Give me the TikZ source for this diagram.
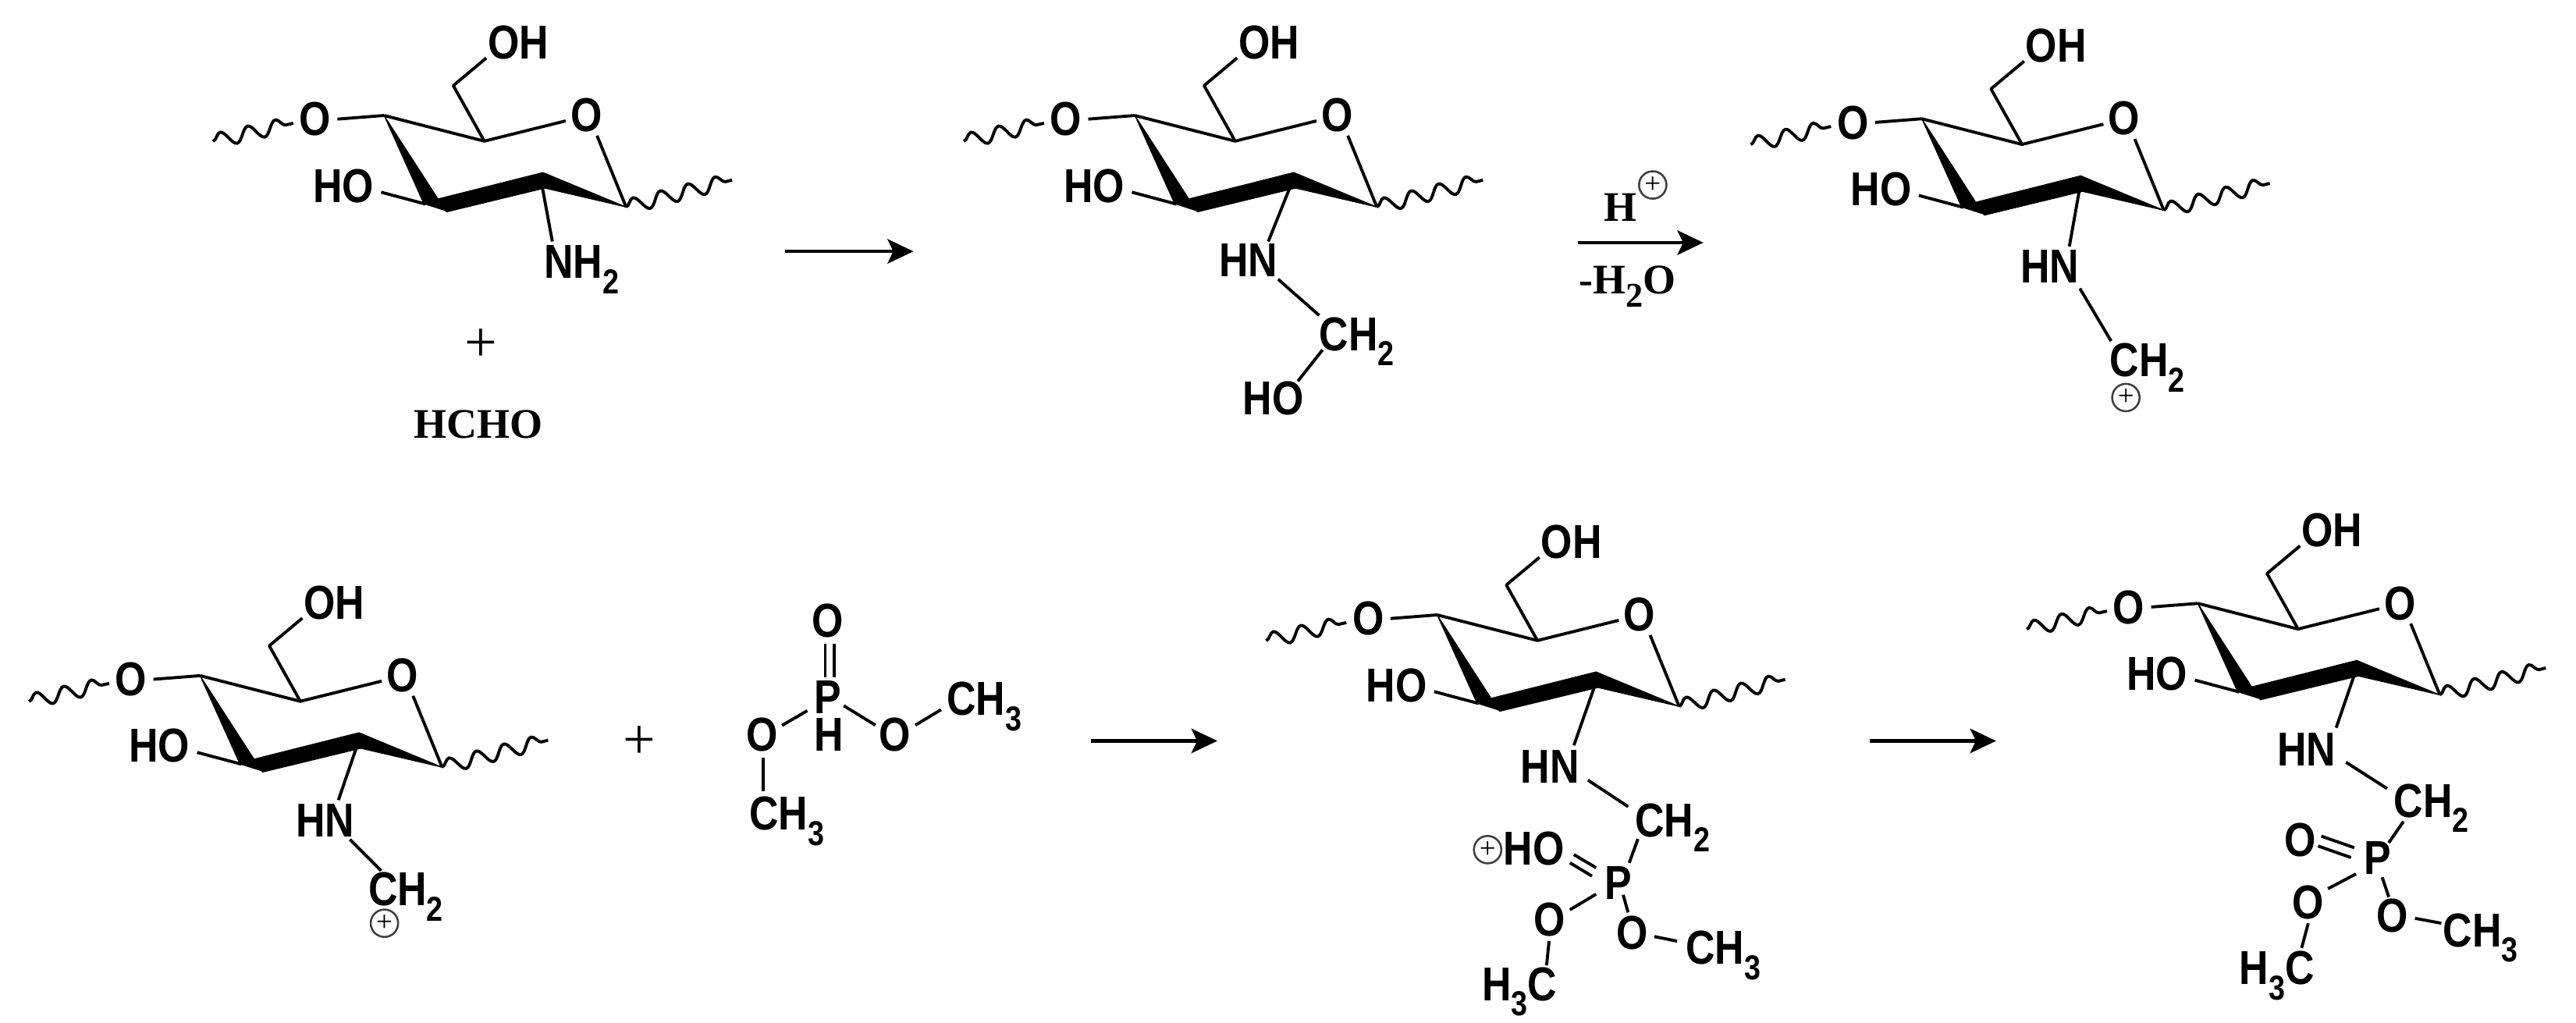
\documentclass[tikz,border=0pt]{standalone}
\usepackage{fontspec}
\usetikzlibrary{arrows.meta,decorations.pathmorphing}
\newfontfamily\chemfont{Liberation Sans Bold}[FakeStretch=0.85]
\newfontfamily\rmbold{Liberation Serif Bold}
\newfontfamily\rmreg{Liberation Serif}
\newcommand{\lo}[1]{\raisebox{-0.32em}{\fontsize{12}{12}\selectfont #1}}
\newcommand{\bnd}[3]{\coordinate (#1-a) at (#2); \coordinate (#1-b) at (#3); \draw[bond] (#1-a) -- (#1-b);}
\newcommand{\arrw}[3]{\coordinate (#1-a) at (#2); \coordinate (#1-b) at (#3); \draw[rxn] (#1-a) -- (#1-b);}
\tikzset{
  atom/.style={inner sep=0pt,text height=11.8pt,text depth=0pt,font={\chemfont\fontsize{16.5}{18}\selectfont}},
  lab/.style={inner sep=0pt,text height=9.8pt,text depth=0pt,font={\rmbold\fontsize{14.6}{17}\selectfont}},
  bond/.style={line width=1.05pt,black},
  wave/.style={line width=1.05pt,black,decorate,decoration={snake,segment length=9.8pt,amplitude=2.5pt}},
  solid wedge/.style={fill=black,draw=black,line width=0.3pt,line join=round},
  rxn/.style={line width=1.1pt,black,-{Stealth[length=9pt,width=8.5pt,inset=2pt]}},
  chg/.style={circle,draw=black!75,line width=0.7pt,inner sep=0pt,minimum size=9.5pt,font={\rmreg\fontsize{10}{10}\selectfont}},
  plusmark/.style={inner sep=0pt,font={\rmreg\fontsize{20}{20}\selectfont}},
}
\newcommand{\sugar}[3]{%
\begin{scope}[shift={(#2,#3)}]
  \node[atom] (#1-O1) at (191.8,72.2) {O};
  \node[atom] (#1-OH) at (315.5,25.6) {OH};
  \node[atom] (#1-O2) at (357,69.8) {O};
  \node[atom] (#1-HO) at (209,112.7) {HO};
  \coordinate (#1-A) at (233.8,70.3);
  \coordinate (#1-B) at (294.8,85.9);
  \coordinate (#1-C) at (275.9,52.1);
  \coordinate (#1-E) at (381.1,126);
  \coordinate (#1-W1) at (129.7,86);
  \coordinate (#1-W2) at (178.5,75);
  \coordinate (#1-W3) at (445.6,109.6);
  \fill[solid wedge] (#1-A) -- (258,124) -- (271.8,128.4) -- (267.2,122) -- cycle;
  \fill[solid wedge] (267,121) -- (330.5,105) -- (#1-E) -- (331.6,114.5) -- (271.8,129) -- cycle;
  \draw[wave] (#1-W1) -- (#1-W2);
  \draw[wave] (#1-E) -- (#1-W3);
  \bnd{#1-b1}{205.4,72.5}{233.8,70.3}
  \draw[bond,line join=round] (#1-A) -- (#1-B) -- (344.3,73.6);
  \draw[bond,line join=round] (#1-B) -- (#1-C) -- (296,35.3);
  \bnd{#1-b2}{363.4,82.6}{381.1,126}
  \bnd{#1-b3}{232,117}{259,124.2}
\end{scope}}
\begin{document}
\begin{tikzpicture}[x=0.02cm,y=-0.02cm]
\useasboundingbox (0,0) rectangle (1568,622.7);
% top row
\sugar{s1}{0}{0}
\bnd{s1n}{329.3,109.6}{336.2,147}
\node[atom] (nh2) at (354,159) {NH\lo{2}};
\node[plusmark] (plus1) at (293,210) {+};
\node[lab] (hcho) at (291,258) {HCHO};
\arrw{a1}{478,153}{556,153}

\sugar{s2}{457}{0}
\node[atom] (s2hn) at (760,158) {HN};
\node[atom] (s2ch) at (826,203) {CH\lo{2}};
\node[atom] (s2ho) at (775,242) {HO};
\bnd{s2a}{786,112}{772,147}
\bnd{s2b}{778,170}{803,192}
\bnd{s2c}{805,213}{790,232}

\arrw{a2}{960.5,147.7}{1036.8,147.7}
\node[lab] (hp) at (986.4,126) {H};
\node[chg] (hpc) at (1006,112.6) {+};
\node[lab] (mw) at (990.5,170) {-H\lo{2}O};

\sugar{s3}{936}{2}
\node[atom] (s3hn) at (1247.6,161.8) {HN};
\node[atom] (s3ch) at (1307,219) {CH\lo{2}};
\node[chg] (s3c) at (1294,242) {+};
\bnd{s3a}{1266,114}{1259.6,150}
\bnd{s3b}{1266,175.6}{1285,207.6}

% bottom row
\sugar{s4}{-112}{341}
\node[atom] (s4hn) at (198,499) {HN};
\node[atom] (s4ch) at (247,541) {CH\lo{2}};
\node[chg] (s4c) at (234,562) {+};
\bnd{s4a}{218,452}{206,487}
\bnd{s4b}{213,511}{232,530}
\node[plusmark] (plus2) at (389,452) {+};

% dimethyl phosphite
\node[atom] (dO) at (504,377.6) {O};
\node[atom] (dP) at (504,424) {P};
\node[atom] (dH) at (504.5,447) {H};
\node[atom] (dOl) at (463.8,446.7) {O};
\node[atom] (dOr) at (544.7,446.7) {O};
\node[atom] (dCr) at (599,425) {CH\lo{3}};
\node[atom] (dCl) at (479,495) {CH\lo{3}};
\bnd{d1}{502.3,392}{502.3,412.4}
\bnd{d2}{507.8,392}{507.8,412.4}
\bnd{d3}{476,441.6}{491.4,432.6}
\bnd{d4}{513.6,429.6}{532.8,441.4}
\bnd{d5}{557.2,441.4}{572.8,432}
\bnd{d6}{464.7,461}{464.7,481.5}

\arrw{a3}{664,451}{741,451}

\sugar{s5}{641}{304}
\node[atom] (s5hn) at (943.4,466.4) {HN};
\node[atom] (s5ch) at (1018,499) {CH\lo{2}};
\node[atom] (s5ho) at (933.6,516.2) {HO};
\node[chg] (s5c) at (905.5,517.2) {+};
\node[atom] (s5p) at (985,537.3) {P};
\node[atom] (s5ol) at (943.4,559.4) {O};
\node[atom] (s5or) at (993.4,567.5) {O};
\node[atom] (s5cl) at (925,598.7) {H\lo{3}C};
\node[atom] (s5cr) at (1049,576.5) {CH\lo{3}};
\bnd{s5a}{971.4,415.5}{958,453.7}
\bnd{s5b}{966.6,474.9}{991,491}
\bnd{s5d}{997,510.7}{991.7,525.2}
\bnd{s5e}{958,520.2}{971.5,528.2}
\bnd{s5f}{955.6,525.2}{969,533.3}
\bnd{s5g}{971.5,544.3}{955.6,553.8}
\bnd{s5h}{988,544.7}{991,555.4}
\bnd{s5i}{942.9,572.9}{941.4,587.6}
\bnd{s5j}{1007,570.1}{1020.8,572.9}

\arrw{a4}{1138,451}{1215,451}

\sugar{s6}{1104}{297}
\node[atom] (s6hn) at (1404,456) {HN};
\node[atom] (s6ch) at (1480,487) {CH\lo{2}};
\node[atom] (s6o) at (1400,511) {O};
\node[atom] (s6p) at (1447,522) {P};
\node[atom] (s6ol) at (1405,549) {O};
\node[atom] (s6or) at (1456,557) {O};
\node[atom] (s6cl) at (1386,589) {H\lo{3}C};
\node[atom] (s6cr) at (1510,566) {CH\lo{3}};
\bnd{s6a}{1434,408}{1422,443}
\bnd{s6b}{1428,464}{1453,480}
\bnd{s6d}{1463,500}{1454,513}
\bnd{s6e}{1413,509}{1433,516}
\bnd{s6f}{1411,515}{1431,522}
\bnd{s6g}{1434,532}{1417,541}
\bnd{s6h}{1450,534}{1454,546}
\bnd{s6i}{1405,562}{1401,577}
\bnd{s6j}{1470,559}{1486,562}
\end{tikzpicture}
\end{document}
